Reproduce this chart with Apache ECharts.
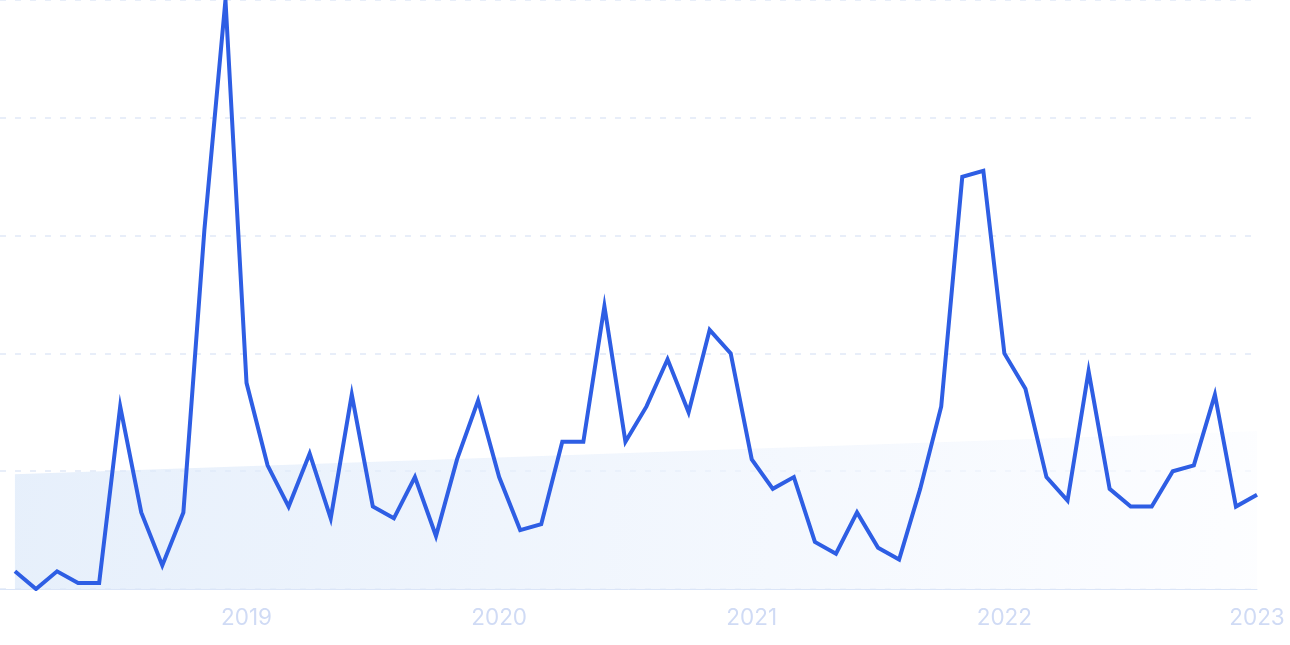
<!DOCTYPE html>
<html>
<head>
<meta charset="utf-8">
<script src="https://cdn.jsdelivr.net/npm/echarts@6/dist/echarts.min.js"></script>
<style>
html,body{margin:0;padding:0;background:#fff;}
#chart{width:1290px;height:645px;}
</style>
</head>
<body>
<div id="chart"></div>
<script>
// Monthly values, 2018-02 .. 2023-01 (index 0..59)
const interest = [3, 0, 3, 1, 1, 31, 13, 4, 13, 61, 100, 35,
  21, 14, 23, 12, 33, 14, 12, 19, 9, 22, 32, 19,
  10, 11, 25, 25, 48, 25, 31, 39, 30, 44, 40, 22,
  17, 19, 8, 6, 13, 7, 5, 17, 31, 70, 71, 40,
  34, 19, 15, 37, 17, 14, 14, 20, 21, 33, 14, 16];
const trendIndex = [0, 59];
const trendValues = [19.5, 26.8];
const yearTickIndex = [11, 23, 35, 47, 59];
const yearLabels = ['2019', '2020', '2021', '2022', '2023'];

const lineData = interest.map((v, i) => [i, v]);
const trendData = trendIndex.map((x, i) => [x, trendValues[i]]);

const chart = echarts.init(document.getElementById('chart'), null, {renderer: 'canvas'});
chart.setOption({
  animation: false,
  grid: {left: 0, right: 33, top: 0, bottom: 56, containLabel: false},
  xAxis: {
    type: 'value',
    min: -0.71,
    max: 59,
    axisLine: {show: true, lineStyle: {color: '#dbe5f7', width: 1}},
    axisTick: {show: false},
    splitLine: {show: false},
    axisLabel: {
      customValues: yearTickIndex,
      formatter: function (v) {
        const k = yearTickIndex.indexOf(Math.round(v));
        return k >= 0 ? yearLabels[k] : '';
      },
      color: '#d0dbf5',
      fontSize: 22.5,
      fontFamily: 'Inter',
      margin: 18
    }
  },
  yAxis: {
    type: 'value',
    min: 0,
    max: 100,
    interval: 20,
    axisLine: {show: false},
    axisTick: {show: false},
    axisLabel: {show: false},
    splitLine: {show: true, lineStyle: {color: '#e1e9f8', width: 1.5, type: [6, 9]}}
  },
  series: [
    {
      type: 'line',
      data: trendData,
      symbol: 'none',
      lineStyle: {width: 0},
      areaStyle: {
        origin: 'start',
        color: new echarts.graphic.LinearGradient(0, 0, 1, 1, [
          {offset: 0, color: '#dbe8f9'},
          {offset: 1, color: '#fbfcff'}
        ])
      },
      z: 1
    },
    {
      type: 'line',
      data: lineData,
      symbol: 'none',
      lineStyle: {color: '#2e5ee4', width: 4, join: 'miter'},
      z: 3
    }
  ]
});
</script>
</body>
</html>
